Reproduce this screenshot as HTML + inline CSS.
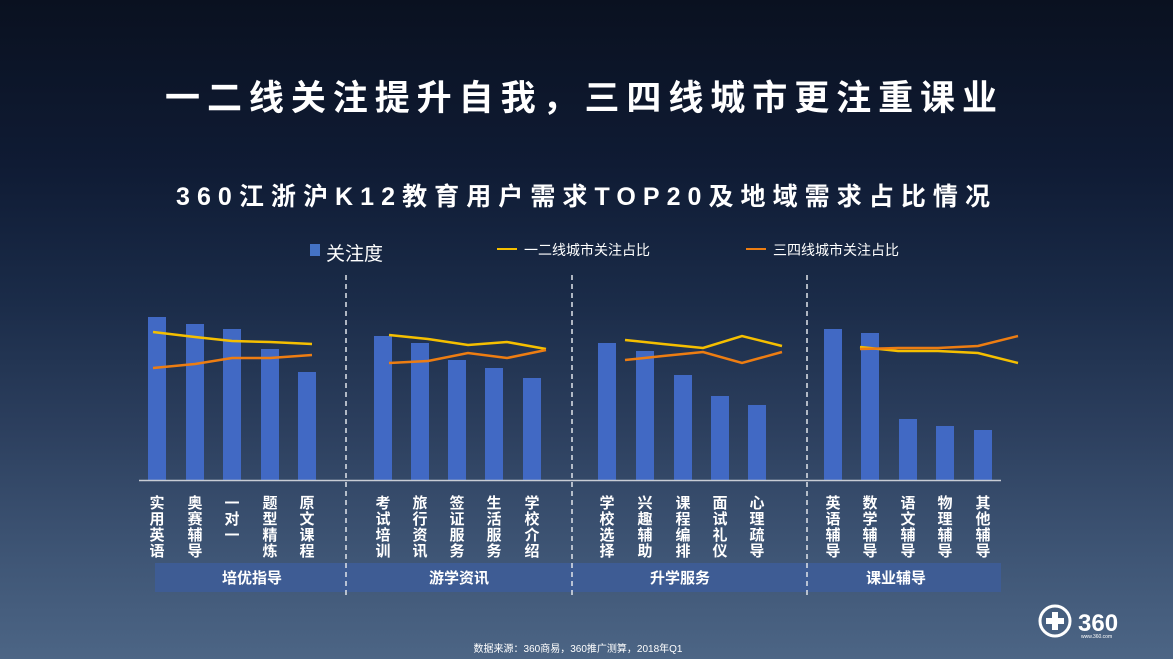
<!DOCTYPE html>
<html><head><meta charset="utf-8"><style>
html,body{margin:0;padding:0;width:1173px;height:659px;overflow:hidden}
body{background:linear-gradient(180deg,#0a1120 0%,#0f1b34 25%,#1a2b48 45%,#2c3f5e 65%,#3f5676 85%,#4c6585 100%);font-family:"Liberation Sans","Noto Sans CJK SC",sans-serif}
</style></head><body>
<svg width="1173" height="659" xmlns="http://www.w3.org/2000/svg" style="position:absolute;left:0;top:0;font-family:'Liberation Sans','Noto Sans CJK SC',sans-serif">
<text x="165" y="110" font-size="35" font-weight="bold" fill="#fff" textLength="832" lengthAdjust="spacing">一二线关注提升自我，三四线城市更注重课业</text>
<text x="176" y="205" font-size="25" font-weight="bold" fill="#fff" textLength="814" lengthAdjust="spacing">360江浙沪K12教育用户需求TOP20及地域需求占比情况</text>
<rect x="310" y="244" width="10" height="12" fill="#4472c4"/>
<text x="326" y="260" font-size="19" fill="#fff">关注度</text>
<line x1="497" y1="249" x2="517" y2="249" stroke="#f5bf00" stroke-width="2"/>
<text x="524" y="255" font-size="14" fill="#fff">一二线城市关注占比</text>
<line x1="746" y1="249" x2="766" y2="249" stroke="#ed7d12" stroke-width="2"/>
<text x="773" y="255" font-size="14" fill="#fff">三四线城市关注占比</text>
<g fill="#4169c4">
<rect x="148" y="317" width="18" height="163"/><rect x="186" y="324" width="18" height="156"/><rect x="223" y="329" width="18" height="151"/><rect x="261" y="349" width="18" height="131"/><rect x="298" y="372" width="18" height="108"/>
<rect x="374" y="336" width="18" height="144"/><rect x="411" y="343" width="18" height="137"/><rect x="448" y="360" width="18" height="120"/><rect x="485" y="368" width="18" height="112"/><rect x="523" y="378" width="18" height="102"/>
<rect x="598" y="343" width="18" height="137"/><rect x="636" y="351" width="18" height="129"/><rect x="674" y="375" width="18" height="105"/><rect x="711" y="396" width="18" height="84"/><rect x="748" y="405" width="18" height="75"/>
<rect x="824" y="329" width="18" height="151"/><rect x="861" y="333" width="18" height="147"/><rect x="899" y="419" width="18" height="61"/><rect x="936" y="426" width="18" height="54"/><rect x="974" y="430" width="18" height="50"/>
</g>
<g fill="none" stroke-width="2.5">
<polyline stroke="#f5bf00" points="153,332 195,337 232,341 270,342 312,344"/>
<polyline stroke="#ed7d12" points="153,368 195,364 232,358 270,358 312,355"/>
<polyline stroke="#f5bf00" points="389,335 428,339 468,345 507,342 546,349"/>
<polyline stroke="#ed7d12" points="389,363 428,361 468,353 507,358 546,350"/>
<polyline stroke="#f5bf00" points="625,340 663,344 703,348 742,336 782,346"/>
<polyline stroke="#ed7d12" points="625,360 663,356 703,352 742,363 782,352"/>
<polyline stroke="#f5bf00" points="860,347 898,351 938,351 978,353 1018,363"/>
<polyline stroke="#ed7d12" points="860,349 898,348 938,348 978,346 1018,336"/>
</g>
<line x1="139" y1="480.5" x2="1001" y2="480.5" stroke="#c8ccd4" stroke-width="1.5"/>
<rect x="155" y="563" width="846" height="29" fill="#3e5c94"/>
<g stroke="#e0e4ea" stroke-width="1.5" stroke-dasharray="5,4">
<line x1="346" y1="275" x2="346" y2="595"/><line x1="572" y1="275" x2="572" y2="595"/><line x1="807" y1="275" x2="807" y2="595"/>
</g>
<g font-size="15" font-weight="bold" fill="#fff" text-anchor="middle">
<text x="157" y="508">实</text><text x="157" y="524">用</text><text x="157" y="540">英</text><text x="157" y="556">语</text>
<text x="195" y="508">奥</text><text x="195" y="524">赛</text><text x="195" y="540">辅</text><text x="195" y="556">导</text>
<text x="232" y="508">一</text><text x="232" y="524">对</text><text x="232" y="540">一</text>
<text x="270" y="508">题</text><text x="270" y="524">型</text><text x="270" y="540">精</text><text x="270" y="556">炼</text>
<text x="307" y="508">原</text><text x="307" y="524">文</text><text x="307" y="540">课</text><text x="307" y="556">程</text>
<text x="383" y="508">考</text><text x="383" y="524">试</text><text x="383" y="540">培</text><text x="383" y="556">训</text>
<text x="420" y="508">旅</text><text x="420" y="524">行</text><text x="420" y="540">资</text><text x="420" y="556">讯</text>
<text x="457" y="508">签</text><text x="457" y="524">证</text><text x="457" y="540">服</text><text x="457" y="556">务</text>
<text x="494" y="508">生</text><text x="494" y="524">活</text><text x="494" y="540">服</text><text x="494" y="556">务</text>
<text x="532" y="508">学</text><text x="532" y="524">校</text><text x="532" y="540">介</text><text x="532" y="556">绍</text>
<text x="607" y="508">学</text><text x="607" y="524">校</text><text x="607" y="540">选</text><text x="607" y="556">择</text>
<text x="645" y="508">兴</text><text x="645" y="524">趣</text><text x="645" y="540">辅</text><text x="645" y="556">助</text>
<text x="683" y="508">课</text><text x="683" y="524">程</text><text x="683" y="540">编</text><text x="683" y="556">排</text>
<text x="720" y="508">面</text><text x="720" y="524">试</text><text x="720" y="540">礼</text><text x="720" y="556">仪</text>
<text x="757" y="508">心</text><text x="757" y="524">理</text><text x="757" y="540">疏</text><text x="757" y="556">导</text>
<text x="833" y="508">英</text><text x="833" y="524">语</text><text x="833" y="540">辅</text><text x="833" y="556">导</text>
<text x="870" y="508">数</text><text x="870" y="524">学</text><text x="870" y="540">辅</text><text x="870" y="556">导</text>
<text x="908" y="508">语</text><text x="908" y="524">文</text><text x="908" y="540">辅</text><text x="908" y="556">导</text>
<text x="945" y="508">物</text><text x="945" y="524">理</text><text x="945" y="540">辅</text><text x="945" y="556">导</text>
<text x="983" y="508">其</text><text x="983" y="524">他</text><text x="983" y="540">辅</text><text x="983" y="556">导</text>
</g>
<g font-size="15" font-weight="bold" fill="#fff" text-anchor="middle">
<text x="252" y="583">培优指导</text><text x="459" y="583">游学资讯</text><text x="680" y="583">升学服务</text><text x="896" y="583">课业辅导</text>
</g>
<text x="578" y="652" font-size="10" fill="#fff" text-anchor="middle">数据来源：360商易，360推广测算，2018年Q1</text>
<circle cx="1055" cy="621" r="15" fill="none" stroke="#fff" stroke-width="3"/>
<rect x="1052" y="612" width="6" height="18" fill="#fff"/><rect x="1046" y="618" width="18" height="6" fill="#fff"/>
<text x="1078" y="631" font-size="24" font-weight="bold" fill="#fff">360</text>
<text x="1081" y="638" font-size="5" fill="#fff">www.360.com</text>
</svg>
</body></html>
